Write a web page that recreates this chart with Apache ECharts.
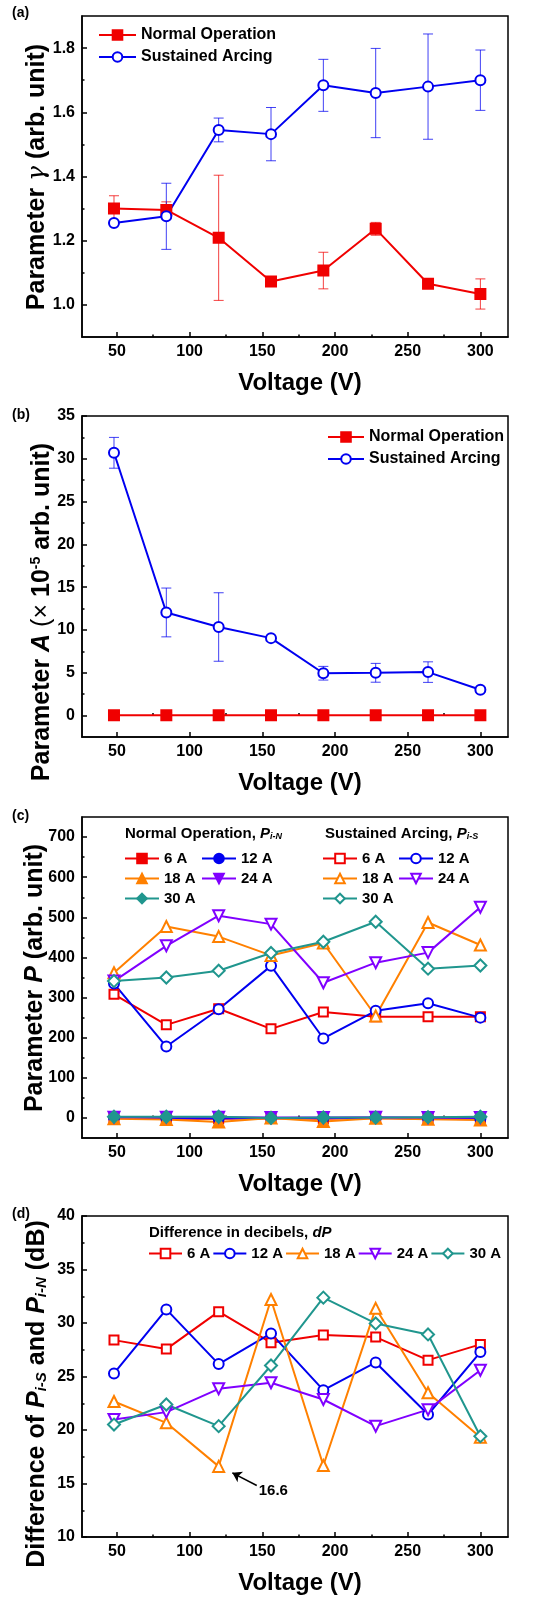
<!DOCTYPE html>
<html style="height: 100%">
<head>
    <meta charset="utf-8">
    <script type="text/javascript" src="https://cdn.jsdelivr.net/npm/echarts@6/dist/echarts.min.js"></script>
</head>
<body style="height: 100%; margin: 0; background: #fff">
<div id="container" style="width: 542px; height: 1598px"></div>
<script type="text/javascript">
    // voltages (V)
    var volts = [48, 84, 120, 156, 192, 228, 264, 300];

    // (a) parameter gamma
    var gammaNormal = [1.300, 1.296, 1.209, 1.073, 1.107, 1.237, 1.066, 1.034];
    var gammaNormalErr = [0.040, 0.025, 0.195, 0.006, 0.057, 0.020, 0.006, 0.047];
    var gammaArc = [1.255, 1.276, 1.545, 1.532, 1.684, 1.660, 1.680, 1.700];
    var gammaArcErr = [0.008, 0.103, 0.037, 0.083, 0.081, 0.139, 0.164, 0.094];

    // (b) parameter A (x 1e-5)
    var ampNormal = [0.05, 0.05, 0.05, 0.05, 0.05, 0.05, 0.05, 0.05];
    var ampArc = [30.7, 12.05, 10.35, 9.05, 4.95, 5.0, 5.08, 3.02];
    var ampArcErr = [1.8, 2.85, 4.0, 0.2, 0.8, 1.1, 1.2, 0.3];

    // (c) parameter P, normal operation
    var pN6 = [0, -2, -2, -1, -2, 0, -2, -3];
    var pN12 = [1, 0, -1, 0, 0, 0, -1, -2];
    var pN18 = [-2, -4, -10, 0, -9, -1, -3, -5];
    var pN24 = [2, 2, 2, 1, 1, 2, 1, 1];
    var pN30 = [3, 3, 3, 0, 1, 1, 2, 3];
    // (c) parameter P, sustained arcing
    var pS6 = [308, 232, 272, 222, 264, 252, 252, 252];
    var pS12 = [335, 178, 271, 379, 198, 267, 286, 250];
    var pS18 = [362, 477, 452, 405, 436, 254, 487, 431];
    var pS24 = [341, 429, 504, 483, 337, 387, 412, 525];
    var pS30 = [341, 350, 367, 411, 439, 489, 372, 380];

    // (d) difference in dB
    var dP6 = [28.4, 27.56, 31.06, 28.16, 28.87, 28.68, 26.53, 28.0];
    var dP12 = [25.29, 31.27, 26.16, 29.03, 23.72, 26.31, 21.45, 27.28];
    var dP18 = [22.66, 20.67, 16.6, 32.2, 16.68, 31.37, 23.48, 19.33];
    var dP24 = [20.98, 21.67, 23.85, 24.41, 22.85, 20.36, 21.9, 25.59];
    var dP30 = [20.51, 22.38, 20.36, 26.03, 32.37, 29.96, 28.93, 19.42];

    // ticks
    var xMajor = [50, 100, 150, 200, 250, 300];
    var xMinor = [75, 125, 175, 225, 275];
    var yMajorA = [1.0, 1.2, 1.4, 1.6, 1.8];
    var yMinorA = [1.1, 1.3, 1.5, 1.7];
    var yMajorB = [0, 5, 10, 15, 20, 25, 30, 35];
    var yMinorB = [2.5, 7.5, 12.5, 17.5, 22.5, 27.5, 32.5];
    var yMajorC = [0, 100, 200, 300, 400, 500, 600, 700];
    var yMinorC = [50, 150, 250, 350, 450, 550, 650];
    var yMajorD = [10, 15, 20, 25, 30, 35, 40];
    var yMinorD = [12.5, 17.5, 22.5, 27.5, 32.5, 37.5];

    var RED = '#f00000', BLUE = '#0000f0', ORANGE = '#ff8000', PURPLE = '#8000ff', TEAL = '#20968e';
    var FONT = 'Liberation Sans, Arial, sans-serif';

    var dom = document.getElementById('container');
    var myChart = echarts.init(dom);

    function pairs(ys) {
        return volts.map(function (x, i) { return [x, ys[i]]; });
    }
    function triples(ys, es) {
        return volts.map(function (x, i) { return [x, ys[i], es[i]]; });
    }

    var yRanges = [[0.9, 1.9], [-2.5, 35], [-50, 750], [10, 40]];
    var yMajors = [yMajorA, yMajorB, yMajorC, yMajorD];
    var yMinors = [yMinorA, yMinorB, yMinorC, yMinorD];
    var tops = [16, 416, 817, 1216];

    var grids = [], xAxes = [], yAxes = [];
    var labelStyle = { color: '#000', fontSize: 16, fontWeight: 'bold', fontFamily: FONT };
    for (var i = 0; i < 4; i++) {
        grids.push({ left: 82, top: tops[i], width: 426, height: 321, show: true, borderColor: '#000', borderWidth: 1.5 });
        xAxes.push({
            type: 'value', gridIndex: i, min: 26, max: 319, position: 'bottom',
            axisLine: { show: true, onZero: false, lineStyle: { color: '#000', width: 1.5 } },
            axisTick: { inside: true, length: 5, customValues: xMajor, lineStyle: { color: '#000', width: 1.5 } },
            axisLabel: Object.assign({ customValues: xMajor, margin: 7 }, labelStyle),
            splitLine: { show: false },
            name: 'Voltage (V)', nameLocation: 'middle', nameGap: 34,
            nameTextStyle: { color: '#000', fontSize: 24, fontWeight: 'bold', fontFamily: FONT, padding: [0, 0, 0, 10] }
        });
        var dec = i === 0 ? 1 : 0;
        yAxes.push({
            type: 'value', gridIndex: i, min: yRanges[i][0], max: yRanges[i][1], position: 'left',
            axisLine: { show: true, onZero: false, lineStyle: { color: '#000', width: 1.5 } },
            axisTick: { inside: true, length: 5, customValues: yMajors[i], lineStyle: { color: '#000', width: 1.5 } },
            axisLabel: Object.assign({ customValues: yMajors[i], margin: 7, formatter: (function (d) { return function (v) { return v.toFixed(d); }; })(dec) }, labelStyle),
            splitLine: { show: false }
        });
    }
    // minor ticks on overlay axes
    for (var j = 0; j < 4; j++) {
        xAxes.push({
            type: 'value', gridIndex: j, min: 26, max: 319, position: 'bottom',
            axisLine: { show: false },
            axisTick: { show: true, inside: true, length: 2.5, customValues: xMinor, lineStyle: { color: '#000', width: 1.5 } },
            axisLabel: { show: false }, splitLine: { show: false }
        });
        yAxes.push({
            type: 'value', gridIndex: j, min: yRanges[j][0], max: yRanges[j][1], position: 'left',
            axisLine: { show: false },
            axisTick: { show: true, inside: true, length: 2.5, customValues: yMinors[j], lineStyle: { color: '#000', width: 1.5 } },
            axisLabel: { show: false }, splitLine: { show: false }
        });
    }

    function lineSeries(name, idx, ys, color, symbol, size, rotate) {
        return {
            name: name, type: 'line', xAxisIndex: idx, yAxisIndex: idx,
            data: pairs(ys), symbol: symbol, symbolSize: size, symbolRotate: rotate || 0,
            showAllSymbol: true, z: 3,
            lineStyle: { color: color, width: 2 },
            itemStyle: { color: color, borderColor: color, borderWidth: 2 }
        };
    }

    function errorSeries(idx, ys, es, color) {
        return {
            type: 'custom', xAxisIndex: idx, yAxisIndex: idx, z: 2, silent: true,
            data: triples(ys, es),
            renderItem: function (params, api) {
                var x = api.value(0), y = api.value(1), e = api.value(2);
                var hi = api.coord([x, y + e]);
                var lo = api.coord([x, y - e]);
                var st = { stroke: color, lineWidth: 1, opacity: 0.75 };
                return {
                    type: 'group',
                    children: [
                        { type: 'line', shape: { x1: hi[0], y1: hi[1], x2: lo[0], y2: lo[1] }, style: st },
                        { type: 'line', shape: { x1: hi[0] - 5, y1: hi[1], x2: hi[0] + 5, y2: hi[1] }, style: st },
                        { type: 'line', shape: { x1: lo[0] - 5, y1: lo[1], x2: lo[0] + 5, y2: lo[1] }, style: st }
                    ]
                };
            }
        };
    }

    var series = [
        errorSeries(0, gammaNormal, gammaNormalErr, RED),
        errorSeries(0, gammaArc, gammaArcErr, BLUE),
        lineSeries('Normal Operation', 0, gammaNormal, RED, 'rect', 10),
        lineSeries('Sustained Arcing', 0, gammaArc, BLUE, 'emptyCircle', 10),

        errorSeries(1, ampArc, ampArcErr, BLUE),
        lineSeries('Normal Operation', 1, ampNormal, RED, 'rect', 10),
        lineSeries('Sustained Arcing', 1, ampArc, BLUE, 'emptyCircle', 10),

        lineSeries('S-6 A', 2, pS6, RED, 'emptyRect', 9),
        lineSeries('S-12 A', 2, pS12, BLUE, 'emptyCircle', 10),
        lineSeries('S-18 A', 2, pS18, ORANGE, 'emptyTriangle', 11),
        lineSeries('S-24 A', 2, pS24, PURPLE, 'emptyTriangle', 11, 180),
        lineSeries('S-30 A', 2, pS30, TEAL, 'emptyDiamond', 12),
        lineSeries('N-6 A', 2, pN6, RED, 'rect', 9),
        lineSeries('N-12 A', 2, pN12, BLUE, 'circle', 10),
        lineSeries('N-18 A', 2, pN18, ORANGE, 'triangle', 11),
        lineSeries('N-24 A', 2, pN24, PURPLE, 'triangle', 11, 180),
        lineSeries('N-30 A', 2, pN30, TEAL, 'diamond', 12),

        lineSeries('D-6 A', 3, dP6, RED, 'emptyRect', 9),
        lineSeries('D-12 A', 3, dP12, BLUE, 'emptyCircle', 10),
        lineSeries('D-18 A', 3, dP18, ORANGE, 'emptyTriangle', 11),
        lineSeries('D-24 A', 3, dP24, PURPLE, 'emptyTriangle', 11, 180),
        lineSeries('D-30 A', 3, dP30, TEAL, 'emptyDiamond', 12)
    ];

    // arrow and label pointing at the 16.6 dB point
    series[19].markLine = {
        silent: true, symbol: ['none', 'arrow'], symbolSize: 9,
        lineStyle: { color: '#000', width: 1.5, type: 'solid' },
        label: { show: false },
        data: [[{ coord: [146.2, 14.81] }, { coord: [129.4, 16.0] }]]
    };
    series[19].markPoint = {
        silent: true, symbol: 'circle', symbolSize: 0,
        label: { show: true, position: 'inside', formatter: '16.6', color: '#000', fontSize: 15, fontWeight: 'bold', fontFamily: FONT },
        data: [{ coord: [157.6, 14.34] }]
    };

    var legText = { color: '#000', fontSize: 16, fontWeight: 'bold', fontFamily: FONT };
    var legTextS = { color: '#000', fontSize: 15, fontWeight: 'bold', fontFamily: FONT };
    function strip(name) { return name.slice(2); }

    var legends = [
        { orient: 'vertical', left: 98, top: 27, padding: 0, itemWidth: 37, itemHeight: 12, itemGap: 6, textStyle: legText, data: ['Normal Operation', 'Sustained Arcing'] },
        { orient: 'vertical', left: 327, top: 429, padding: 0, itemWidth: 36, itemHeight: 12, itemGap: 6, textStyle: legText, data: ['Normal Operation', 'Sustained Arcing'] },
        { orient: 'vertical', left: 124, top: 851, padding: 0, itemWidth: 34, itemHeight: 12, itemGap: 5, textStyle: legTextS, formatter: strip, data: ['N-6 A', 'N-18 A', 'N-30 A'] },
        { orient: 'vertical', left: 201, top: 851, padding: 0, itemWidth: 34, itemHeight: 12, itemGap: 5, textStyle: legTextS, formatter: strip, data: ['N-12 A', 'N-24 A'] },
        { orient: 'vertical', left: 322, top: 851, padding: 0, itemWidth: 34, itemHeight: 12, itemGap: 5, textStyle: legTextS, formatter: strip, data: ['S-6 A', 'S-18 A', 'S-30 A'] },
        { orient: 'vertical', left: 398, top: 851, padding: 0, itemWidth: 34, itemHeight: 12, itemGap: 5, textStyle: legTextS, formatter: strip, data: ['S-12 A', 'S-24 A'] },
        { orient: 'horizontal', left: 148, top: 1246, padding: 0, itemWidth: 33, itemHeight: 12, itemGap: 2, textStyle: legTextS, formatter: strip, data: ['D-6 A', 'D-12 A', 'D-18 A', 'D-24 A', 'D-30 A'] }
    ];

    var yName = {
        b: { fontSize: 25, fontWeight: 'bold', fontFamily: FONT, fill: '#000' },
        i: { fontSize: 25, fontWeight: 'bold', fontStyle: 'italic', fontFamily: FONT, fill: '#000' },
        g: { fontSize: 25, fontStyle: 'italic', fontFamily: 'DejaVu Serif, serif', fill: '#000' },
        n: { fontSize: 25, fontFamily: FONT, fill: '#000' },
        sup: { fontSize: 14, fontWeight: 'bold', fontFamily: FONT, fill: '#000', verticalAlign: 'top' },
        sub: { fontSize: 15, fontWeight: 'bold', fontStyle: 'italic', fontFamily: FONT, fill: '#000', verticalAlign: 'bottom' }
    };
    var legName = {
        b: { fontSize: 15, fontWeight: 'bold', fontFamily: FONT, fill: '#000' },
        i: { fontSize: 15, fontWeight: 'bold', fontStyle: 'italic', fontFamily: FONT, fill: '#000' },
        sub: { fontSize: 9, fontWeight: 'bold', fontStyle: 'italic', fontFamily: FONT, fill: '#000', verticalAlign: 'bottom' }
    };
    function vText(x, y, text) {
        return { type: 'text', x: x, y: y, rotation: Math.PI / 2, z: 10,
            style: { text: text, rich: yName, textAlign: 'center', textVerticalAlign: 'middle' } };
    }
    function hText(x, y, text) {
        return { type: 'text', x: x, y: y, z: 10,
            style: { text: text, rich: legName, textAlign: 'left', textVerticalAlign: 'middle' } };
    }
    function panel(x, y, t) {
        return { type: 'text', x: x, y: y, z: 10,
            style: { text: t, fill: '#000', font: 'bold 14px ' + FONT, textAlign: 'left', textVerticalAlign: 'middle' } };
    }

    var graphics = [
        panel(12, 13, '(a)'), panel(12, 415, '(b)'), panel(12, 816, '(c)'), panel(12, 1214, '(d)'),
        vText(37, 177, '{b|Parameter }{g|γ}{b| (arb. unit)}'),
        vText(42, 612, '{b|Parameter }{i|A}{b| }{n|(×}{b| 10}{sup|-5}{b| arb. unit)}'),
        vText(35, 978, '{b|Parameter }{i|P}{b| (arb. unit)}'),
        vText(37, 1394, '{b|Difference of }{i|P}{sub|i-S}{b| and }{i|P}{sub|i-N}{b| (dB)}'),
        hText(125, 834, '{b|Normal Operation, }{i|P}{sub|i-N}'),
        hText(325, 834, '{b|Sustained Arcing, }{i|P}{sub|i-S}'),
        hText(149, 1233, '{b|Difference in decibels, }{i|dP}')
    ];

    var option = {
        animation: false,
        backgroundColor: '#fff',
        grid: grids,
        xAxis: xAxes,
        yAxis: yAxes,
        legend: legends,
        graphic: graphics,
        series: series
    };
    myChart.setOption(option);
</script>
</body>
</html>
